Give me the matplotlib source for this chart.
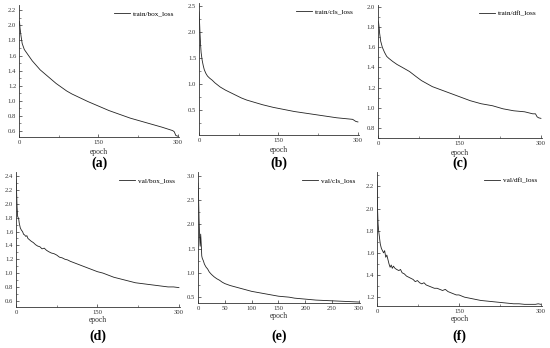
import matplotlib
matplotlib.use("Agg")
import matplotlib.pyplot as plt
from matplotlib.ticker import MultipleLocator

plt.rcParams['font.family'] = ['Liberation Serif', 'DejaVu Serif']

box_ep = [0, 1, 2, 4, 6, 10, 15, 20, 25, 30, 40, 50, 60, 70, 80, 90, 100, 115, 130,
          150, 170, 190, 210, 230, 250, 270, 290, 293, 296, 300]
box_loss = [2.00, 2.05, 1.96, 1.85, 1.76, 1.68, 1.63, 1.58, 1.53, 1.49, 1.41, 1.35, 1.29,
            1.23, 1.18, 1.13, 1.09, 1.04, 0.99, 0.93, 0.87, 0.82, 0.77, 0.73, 0.69, 0.65,
            0.605, 0.59, 0.54, 0.53]

cls_ep = [0, 1, 2, 3, 4, 6, 8, 10, 13, 16, 20, 25, 30, 40, 50, 60, 70, 80, 90, 100, 120,
          140, 160, 180, 200, 220, 240, 260, 280, 290, 293, 296, 300]
cls_loss = [2.38, 2.2, 1.95, 1.75, 1.6, 1.45, 1.35, 1.27, 1.2, 1.15, 1.11, 1.07, 1.02, 0.94,
            0.88, 0.83, 0.78, 0.73, 0.69, 0.66, 0.60, 0.55, 0.51, 0.47, 0.44, 0.41, 0.38,
            0.35, 0.33, 0.32, 0.30, 0.28, 0.27]

dfl_ep = [0, 1, 2, 3, 5, 8, 12, 16, 20, 27, 35, 45, 58, 70, 80, 90, 100, 115, 130, 150,
          170, 190, 211, 230, 250, 270, 285, 290, 293, 296, 300]
dfl_loss = [1.86, 1.85, 1.80, 1.74, 1.66, 1.60, 1.55, 1.51, 1.49, 1.46, 1.43, 1.40, 1.36,
            1.31, 1.27, 1.24, 1.21, 1.18, 1.15, 1.11, 1.07, 1.04, 1.02, 0.99, 0.97, 0.96,
            0.94, 0.94, 0.91, 0.90, 0.895]

vbox_ep = [0, 1, 2, 3, 4, 5, 6, 8, 10, 12, 14, 16, 18, 20, 22, 25, 28, 32, 36, 40, 44, 48,
           52, 56, 60, 65, 70, 75, 80, 85, 90, 95, 100, 110, 120, 130, 140, 150, 160, 170,
           180, 190, 200, 210, 220, 230, 240, 250, 260, 270, 280, 290, 300]
vbox_loss = [2.35, 2.2, 1.95, 1.82, 1.80, 1.78, 1.72, 1.65, 1.62, 1.60, 1.56, 1.55, 1.53,
             1.54, 1.50, 1.48, 1.46, 1.44, 1.41, 1.39, 1.38, 1.35, 1.36, 1.33, 1.31, 1.29,
             1.28, 1.26, 1.23, 1.22, 1.20, 1.19, 1.17, 1.14, 1.11, 1.08, 1.05, 1.02, 1.00,
             0.97, 0.94, 0.92, 0.90, 0.88, 0.86, 0.85, 0.84, 0.83, 0.82, 0.81, 0.80, 0.80,
             0.79]

vcls_ep = [0, 1, 2, 3, 4, 5, 6, 7, 8, 10, 12, 15, 18, 21, 25, 30, 35, 40, 45, 50, 55, 60,
           70, 80, 90, 100, 110, 120, 130, 140, 150, 160, 170, 180, 190, 200, 220, 240,
           260, 280, 300]
vcls_loss = [2.85, 2.6, 2.1, 1.75, 1.55, 1.8, 1.6, 1.35, 1.3, 1.25, 1.18, 1.12, 1.08, 1.02,
             0.97, 0.92, 0.88, 0.85, 0.81, 0.78, 0.76, 0.74, 0.71, 0.68, 0.65, 0.62, 0.60,
             0.58, 0.56, 0.54, 0.52, 0.51, 0.50, 0.48, 0.47, 0.46, 0.44, 0.43, 0.42, 0.41,
             0.40]

vdfl_ep = [0, 1, 2, 3, 4, 5, 6, 8, 10, 12, 14, 16, 18, 20, 22, 24, 26, 28, 30, 33, 36, 40,
           43, 46, 50, 54, 58, 62, 66, 70, 74, 78, 82, 86, 90, 95, 100, 105, 110, 115, 120,
           125, 130, 135, 140, 145, 150, 160, 170, 180, 190, 200, 210, 220, 230, 240, 250,
           260, 270, 280, 290, 295, 300]
vdfl_loss = [2.24, 2.0, 1.86, 1.80, 1.76, 1.72, 1.68, 1.64, 1.62, 1.60, 1.62, 1.56, 1.58,
             1.54, 1.50, 1.47, 1.49, 1.46, 1.48, 1.46, 1.45, 1.44, 1.45, 1.42, 1.41, 1.39,
             1.38, 1.37, 1.36, 1.34, 1.35, 1.33, 1.32, 1.33, 1.31, 1.30, 1.29, 1.28, 1.28,
             1.27, 1.26, 1.27, 1.25, 1.24, 1.23, 1.22, 1.22, 1.20, 1.19, 1.18, 1.17, 1.165,
             1.16, 1.155, 1.15, 1.145, 1.14, 1.14, 1.135, 1.135, 1.135, 1.14, 1.135]

W, H = 550, 348

# (имя, эпохи, значения, рамка осей в пикселях x0, x1, y_top, y_bottom, ylim, шаг y, подпись)
panels = [
    ('train/box_loss', box_ep, box_loss, (19, 179, 5, 137), (0.52, 2.27), 0.2, '(a)'),
    ('train/cls_loss', cls_ep, cls_loss, (199, 359, 3, 135), (0.02, 2.55), 0.5, '(b)'),
    ('train/dfl_loss', dfl_ep, dfl_loss, (378, 542, 5, 138), (0.70, 2.02), 0.2, '(c)'),
    ('val/box_loss', vbox_ep, vbox_loss, (16, 180, 172, 307), (0.51, 2.46), 0.2, '(d)'),
    ('val/cls_loss', vcls_ep, vcls_loss, (198, 360, 172, 303), (0.38, 3.08), 0.5, '(e)'),
    ('val/dfl_loss', vdfl_ep, vdfl_loss, (377, 542, 172, 306), (1.12, 2.33), 0.2, '(f)'),
]

fig = plt.figure(figsize=(5.5, 3.48), dpi=100)

for name, ep, val, box, ylim, ystep, tag in panels:
    x0, x1, yt, yb = box
    top_row = yb < 170
    ax = fig.add_axes([x0 / W, 1 - yb / H, (x1 - x0) / W, (yb - yt) / H])
    ax.plot(ep, val, color='#222222', lw=0.6, label=name)
    ax.set_xlim(0, 302)
    ax.set_ylim(*ylim)
    for s in ['top', 'right']:
        ax.spines[s].set_visible(False)
    for s in ['left', 'bottom']:
        ax.spines[s].set_linewidth(0.6)
        ax.spines[s].set_color('#333333')
    if tag == '(e)':
        ax.xaxis.set_major_locator(MultipleLocator(50))
    else:
        ax.xaxis.set_major_locator(MultipleLocator(150))
        ax.xaxis.set_minor_locator(MultipleLocator(75))
    ax.yaxis.set_major_locator(MultipleLocator(ystep))
    ax.yaxis.set_minor_locator(MultipleLocator(ystep / 2))
    ax.tick_params(which='major', direction='in', length=2, width=0.5, labelsize=4.8,
                   pad=2, colors='#333333')
    ax.tick_params(which='minor', direction='in', length=1.2, width=0.4, colors='#333333')
    ax.yaxis.set_major_formatter(plt.FormatStrFormatter('%.1f'))
    ax.set_xlabel('epoch', fontsize=5.5, labelpad=2.5 if top_row else 1.0,
                  color='#333333')
    ax.legend(loc='upper right', frameon=False, fontsize=5.2, handlelength=2.2,
              handletextpad=0.4, borderaxespad=0.3)
    cx = (x0 + x1) / 2 / W
    ty = 163 if top_row else 336
    fig.text(cx, 1 - ty / H, tag, ha='center', va='center', fontsize=10,
             fontweight='bold')

fig.savefig('out.png', dpi=100)
